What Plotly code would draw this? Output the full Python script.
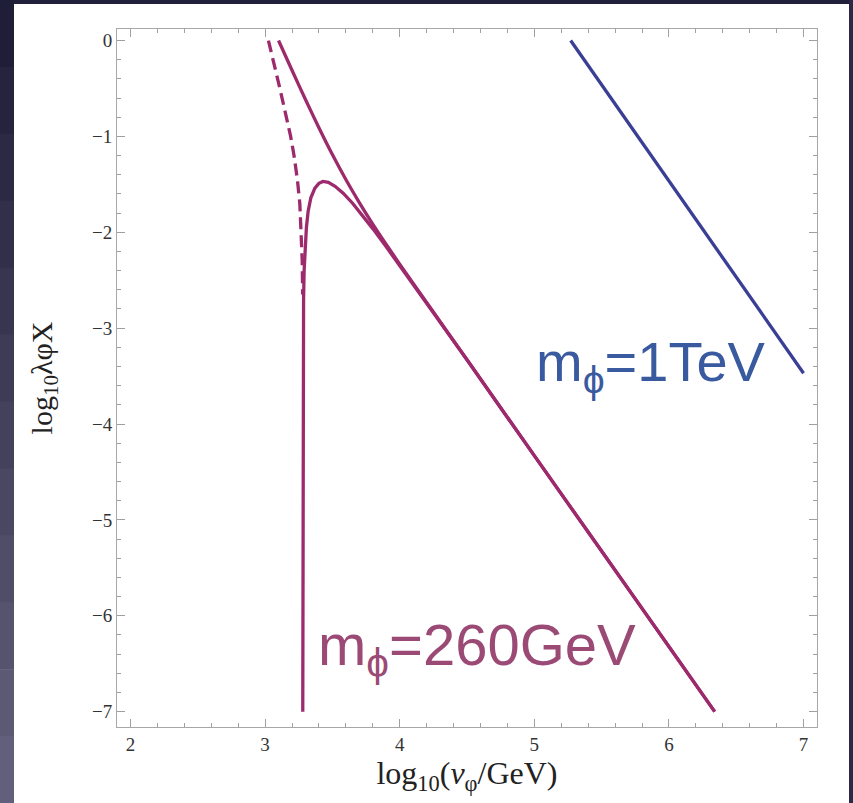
import plotly.graph_objects as go

# ---------------- data ----------------
blue_x = [5.27, 7.0]
blue_y = [0.0, -3.47]

upper_x = [3.10, 3.20, 3.30, 3.40, 3.50, 3.60, 3.70, 3.80, 3.90, 4.00, 4.25, 4.50, 5.00, 5.50, 6.00, 6.34]
upper_y = [0.0, -0.31, -0.615, -0.91, -1.19, -1.45, -1.69, -1.915, -2.127, -2.332, -2.832,
           -3.33, -4.33, -5.325, -6.32, -7.0]

peak_x = [3.280, 3.280, 3.281, 3.283, 3.286, 3.290, 3.297, 3.307, 3.320, 3.340, 3.370, 3.400,
          3.430, 3.470, 3.520, 3.580, 3.650, 3.720, 3.800, 3.900, 4.000, 4.250, 4.500, 5.000,
          5.500, 6.000, 6.340]
peak_y = [-7.0, -5.0, -3.8, -3.1, -2.7, -2.4, -2.15, -1.95, -1.78, -1.64, -1.54, -1.49,
          -1.47, -1.48, -1.52, -1.592, -1.697, -1.816, -1.962, -2.152, -2.347, -2.838, -3.33,
          -4.33, -5.325, -6.32, -7.0]

dash_x = [3.025, 3.07, 3.11, 3.15, 3.19, 3.215, 3.24, 3.258, 3.27, 3.276, 3.279]
dash_y = [0.0, -0.25, -0.5, -0.75, -1.0, -1.2, -1.45, -1.7, -2.0, -2.3, -2.65]

x_ticks = [2, 3, 4, 5, 6, 7]
y_ticks = [0, -1, -2, -3, -4, -5, -6, -7]

label_1tev = "m<sub>\u03d5</sub>=1TeV"
label_260 = "m<sub>\u03d5</sub>=260GeV"

MAG = "#9c2a6c"
BLUE = "#3a3f96"

fig = go.Figure()
fig.add_trace(go.Scatter(x=blue_x, y=blue_y, mode="lines",
                         line=dict(color=BLUE, width=3.3), showlegend=False))
fig.add_trace(go.Scatter(x=dash_x, y=dash_y, mode="lines",
                         line=dict(color=MAG, width=3.3, dash="12px,6px"), showlegend=False))
fig.add_trace(go.Scatter(x=upper_x, y=upper_y, mode="lines",
                         line=dict(color=MAG, width=3.3, shape="spline", smoothing=0.6), showlegend=False))
fig.add_trace(go.Scatter(x=peak_x, y=peak_y, mode="lines",
                         line=dict(color=MAG, width=3.3), showlegend=False))

fig.add_annotation(x=5.0, y=-3.39, text=label_1tev, showarrow=False, xanchor="left",
                   yanchor="middle", font=dict(family="Liberation Sans", size=56, color="#3a5aa0"))
fig.add_annotation(x=3.38, y=-6.35, text=label_260, showarrow=False, xanchor="left",
                   yanchor="middle", font=dict(family="Liberation Sans", size=58, color="#9b4a76"))

axis_common = dict(
    showgrid=False, zeroline=False, showline=True, linecolor="#a8a8a8", linewidth=1,
    mirror="ticks", ticks="inside", ticklen=8, tickcolor="#a0a0a0", tickwidth=1,
    tickfont=dict(family="Liberation Serif", size=19, color="#333333"),
)

fig.update_xaxes(range=[1.9, 7.1], tickvals=x_ticks, ticktext=[str(v) for v in x_ticks],
                 minor=dict(dtick=0.2, ticklen=4, tickcolor="#a0a0a0", ticks="inside"),
                 title=dict(text="log<sub>10</sub>(<i>v</i><sub>\u03c6</sub>/GeV)",
                            font=dict(family="Liberation Serif", size=32, color="#222222"),
                            standoff=6),
                 **axis_common)
fig.update_yaxes(range=[-7.16, 0.12], tickvals=y_ticks,
                 ticktext=[("\u2212" + str(-v)) if v < 0 else str(v) for v in y_ticks],
                 minor=dict(dtick=0.2, ticklen=4, tickcolor="#a0a0a0", ticks="inside"),
                 title=dict(text="log<sub>10</sub>\u03bb\u03c6X",
                            font=dict(family="Liberation Serif", size=30, color="#222222"),
                            standoff=30),
                 **axis_common)

# dark slide frame around the white panel
W, H = 853, 803
L, R, T, B = 117, 36, 29, 76
pw, ph = W - L - R, H - T - B
def px(xp):
    return (xp - L) / pw
def py(yp):
    return (H - B - yp) / ph

shapes = []
shapes.append(dict(type="rect", xref="paper", yref="paper", x0=px(0), x1=px(W), y0=py(0), y1=py(4),
                   fillcolor="#20203a", line=dict(width=0), layer="above"))
shapes.append(dict(type="rect", xref="paper", yref="paper", x0=px(849), x1=px(W), y0=py(0), y1=py(H),
                   fillcolor="#2a2a48", line=dict(width=0), layer="above"))
n = 12
c0 = (30, 30, 56)
c1 = (96, 96, 124)
for i in range(n):
    t = i / (n - 1)
    col = "rgb(%d,%d,%d)" % tuple(int(a + (b - a) * t) for a, b in zip(c0, c1))
    shapes.append(dict(type="rect", xref="paper", yref="paper", x0=px(0), x1=px(14),
                       y0=py(H * i / n), y1=py(H * (i + 1) / n) - 0.001,
                       fillcolor=col, line=dict(width=0), layer="above"))
fig.update_layout(shapes=shapes)

fig.update_layout(
    width=W, height=H,
    margin=dict(l=L, r=R, t=T, b=B),
    paper_bgcolor="white", plot_bgcolor="white",
)

fig.write_html("out.html")
